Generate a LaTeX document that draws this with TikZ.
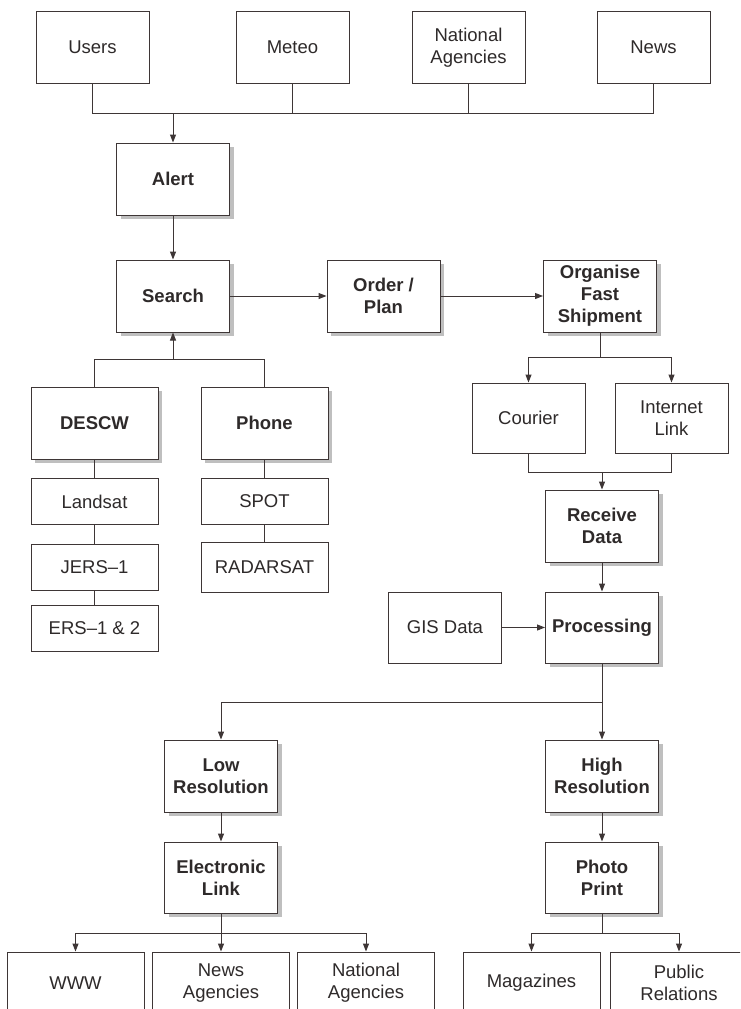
\documentclass[tikz,border=0pt]{standalone}
\usepackage{fontspec}
\setmainfont{Liberation Sans}
\usetikzlibrary{arrows.meta,shadows}
\definecolor{ln}{HTML}{3E3636}
\definecolor{tx}{HTML}{2E2A2A}
\begin{document}
\begin{tikzpicture}[x=1pt,y=-1pt,
  every node/.style={font=\fontsize{18.5}{22}\selectfont, text=tx, align=center},
  plainbox/.style={draw=ln, line width=1pt, fill=white, minimum width=113pt, minimum height=72pt, inner sep=2pt},
  boldbox/.style={plainbox, font=\fontsize{18.5}{22}\selectfont\bfseries,
     drop shadow={shadow xshift=4pt, shadow yshift=-4pt, fill=gray!50, opacity=1}},
  satbox/.style={plainbox, minimum width=127pt, minimum height=46pt},
  outbox/.style={plainbox, minimum width=137pt, minimum height=62pt},
  conn/.style={draw=ln, line width=1pt},
  arr/.style={conn, -{Triangle[length=8pt,width=6pt,fill=ln]}},
]
\useasboundingbox (0,0) rectangle (740,1009);
\fill[white] (0,0) rectangle (740,1009);
\clip (0,0) rectangle (740,1009);

% top sources
\node[plainbox] (users) at (92.5,47.5) {Users};
\node[plainbox] (meteo) at (292.5,47.5) {Meteo};
\node[plainbox] (natag) at (468.5,47.5) {National\\Agencies};
\node[plainbox] (news) at (653.5,47.5) {News};
\coordinate (topbus) at (173,113);

% main flow
\node[boldbox] (alert) at (173,179) {Alert};
\node[boldbox] (search) at (173,296) {Search};
\node[boldbox] (order) at (383.5,296) {Order /\\Plan};
\node[boldbox] (organise) at (600,296) {Organise\\Fast\\Shipment};

% left column
\node[boldbox, minimum width=127pt] (descw) at (94.5,423) {DESCW};
\node[boldbox, minimum width=127pt] (phone) at (264.5,423) {Phone};
\coordinate (srcbus) at (173,359);
\node[satbox] (landsat) at (94.5,501.5) {Landsat};
\node[satbox] (jers) at (94.5,567) {JERS–1};
\node[satbox] (ers) at (94.5,628.5) {ERS–1 \& 2};
\node[satbox] (spot) at (264.5,501.5) {SPOT};
\node[satbox, minimum height=50pt] (radarsat) at (264.5,567) {RADARSAT};

% shipment
\coordinate (shipbus) at (600,357);
\node[plainbox, minimum height=70pt] (courier) at (528.5,418) {Courier};
\node[plainbox, minimum height=70pt] (internet) at (671.5,418) {Internet\\Link};
\coordinate (recbus) at (602,472);
\node[boldbox] (receive) at (602,526) {Receive\\Data};
\node[boldbox, minimum height=71pt] (processing) at (602,627.5) {Processing};
\node[plainbox, minimum height=71pt] (gis) at (445,627.5) {GIS Data};

% resolution split
\coordinate (resbus) at (602,702);
\node[boldbox] (lowres) at (221,776) {Low\\Resolution};
\node[boldbox] (highres) at (602,776) {High\\Resolution};
\node[boldbox, minimum height=71pt] (elink) at (221,877.5) {Electronic\\Link};
\node[boldbox, minimum height=71pt] (photo) at (602,877.5) {Photo\\Print};

% outputs
\coordinate (ebus) at (221,933);
\coordinate (pbus) at (602,933);
\node[outbox] (www) at (75.5,983) {WWW};
\node[outbox] (newsag) at (221,983) {News\\Agencies};
\node[outbox] (natag2) at (366,983) {National\\Agencies};
\node[outbox] (mags) at (531.5,983) {Magazines};
\node[outbox, minimum width=138pt] (pr) at (679,983) {Public\\Relations};

% connectors: top
\draw[conn] (users.south) -- (users.south |- topbus) -- (news.south |- topbus) -- (news.south);
\draw[conn] (meteo.south) -- (meteo.south |- topbus);
\draw[conn] (natag.south) -- (natag.south |- topbus);
\draw[arr] (topbus) -- (alert.north);
\draw[arr] (alert.south) -- (search.north);
\draw[arr] (search.east) -- (order.west);
\draw[arr] (order.east) -- (organise.west);

% sources into search
\draw[conn] (descw.north) -- (descw.north |- srcbus) -- (phone.north |- srcbus) -- (phone.north);
\draw[arr] (srcbus) -- (search.south);
\draw[conn] (descw.south) -- (landsat.north);
\draw[conn] (landsat.south) -- (jers.north);
\draw[conn] (jers.south) -- (ers.north);
\draw[conn] (phone.south) -- (spot.north);
\draw[conn] (spot.south) -- (radarsat.north);

% shipment
\draw[conn] (organise.south) -- (shipbus);
\draw[conn] (courier.north |- shipbus) -- (internet.north |- shipbus);
\draw[arr] (courier.north |- shipbus) -- (courier.north);
\draw[arr] (internet.north |- shipbus) -- (internet.north);
\draw[conn] (courier.south) -- (courier.south |- recbus) -- (internet.south |- recbus) -- (internet.south);
\draw[arr] (recbus) -- (receive.north);
\draw[arr] (receive.south) -- (processing.north);
\draw[arr] (gis.east) -- (processing.west);

% resolution
\draw[conn] (processing.south) -- (resbus) -- (lowres.north |- resbus);
\draw[arr] (lowres.north |- resbus) -- (lowres.north);
\draw[arr] (resbus) -- (highres.north);
\draw[arr] (lowres.south) -- (elink.north);
\draw[arr] (highres.south) -- (photo.north);

% outputs
\draw[conn] (elink.south) -- (ebus);
\draw[conn] (www.north |- ebus) -- (natag2.north |- ebus);
\draw[arr] (www.north |- ebus) -- (www.north);
\draw[arr] (ebus) -- (newsag.north);
\draw[arr] (natag2.north |- ebus) -- (natag2.north);
\draw[conn] (photo.south) -- (pbus);
\draw[conn] (mags.north |- pbus) -- (pr.north |- pbus);
\draw[arr] (mags.north |- pbus) -- (mags.north);
\draw[arr] (pr.north |- pbus) -- (pr.north);
\end{tikzpicture}
\end{document}
